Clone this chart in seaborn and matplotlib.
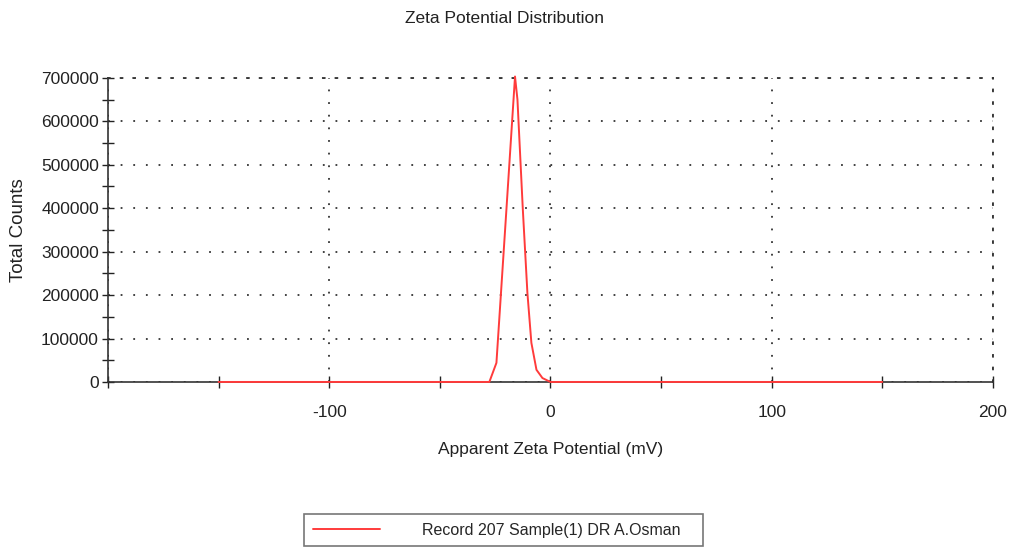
import numpy as np
import pandas as pd
import matplotlib.pyplot as plt
import seaborn as sns

# values
zeta_mv = [-150, -27.6, -24.4, -20.0, -16.0, -14.9, -12.5, -10.4, -8.6, -6.3, -3.6, 0.0, 150]
counts = [0, 0, 44000, 388000, 703000, 650000, 400000, 205000, 90000, 28000, 9000, 0, 0]
x_ticks = [-200, -100, 0, 100, 200]
x_labels = ["", "-100", "0", "100", "200"]
y_ticks = [0, 100000, 200000, 300000, 400000, 500000, 600000, 700000]
record_label = "Record 207 Sample(1) DR A.Osman"

df = pd.DataFrame({"zeta": zeta_mv, "counts": counts})

sns.set_style("white")
plt.rcParams["font.family"] = ["Liberation Sans", "DejaVu Sans"]

fig = plt.figure(figsize=(10.09, 5.48), dpi=100)
ax = fig.add_axes([0.107, 0.303, 0.877, 0.555])

sns.lineplot(data=df, x="zeta", y="counts", color="#ff3b3b", lw=1.4, ax=ax,
             label=record_label, legend=False, zorder=4, clip_on=False)

ax.set_xlim(-200, 200)
ax.set_ylim(0, 700000)
ax.set_xticks(x_ticks)
ax.set_xticklabels(x_labels)
ax.set_xticks([-150, -50, 50, 150], minor=True)
ax.set_yticks(y_ticks)
ax.set_yticklabels([str(v) for v in y_ticks])
ax.set_yticks(np.arange(50000, 700000, 100000), minor=True)

ax.tick_params(axis="both", which="both", direction="inout", color="#222222", labelsize=12.5,
               labelcolor="#222222", bottom=True, left=True)
ax.tick_params(which="major", length=9, width=1)
ax.tick_params(which="minor", length=8, width=1)
ax.tick_params(axis="x", pad=12)
ax.tick_params(axis="y", pad=2)

# dotted grid, incl. top and right edges
ax.grid(True, which="major", color="#333333", linestyle=(0, (1, 6)), linewidth=1.3)
for side in ["top", "right"]:
    ax.spines[side].set_linestyle((0, (1, 6)))
    ax.spines[side].set_color("#333333")
    ax.spines[side].set_linewidth(1.3)
for side in ["left", "bottom"]:
    ax.spines[side].set_color("#333333")
    ax.spines[side].set_linewidth(1.2)

ax.set_xlabel("Apparent Zeta Potential (mV)", fontsize=12.5, color="#222222", labelpad=16)
ax.set_ylabel("Total Counts", fontsize=13.5, color="#222222", labelpad=10)
fig.text(0.5, 0.967, "Zeta Potential Distribution", ha="center", va="center",
         fontsize=12.5, color="#222222")

handles, labels = ax.get_legend_handles_labels()
leg = fig.legend(handles, [record_label + "   "], loc="lower center", bbox_to_anchor=(0.499, 0.0),
                 fontsize=11.5, frameon=True, fancybox=False, handlelength=4.2,
                 handletextpad=2.6, borderpad=0.55, borderaxespad=0.1)
leg.get_frame().set_edgecolor("#555555")
leg.get_frame().set_linewidth(1.2)

fig.savefig("out.png", dpi=100)
